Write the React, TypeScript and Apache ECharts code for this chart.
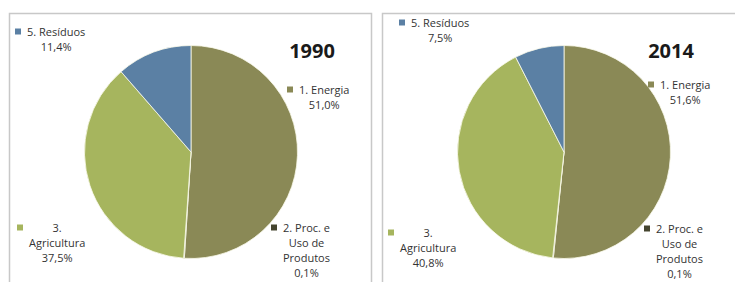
import React, { useEffect, useRef } from 'react';
import * as echarts from 'echarts';

const years = ['1990', '2014'];
const categories = ['1. Energia', '2. Proc. e Uso de Produtos', '3. Agricultura', '5. Resíduos'];
// label text wrapped as in the reference
const labelLines = [['1. Energia'], ['2. Proc. e', 'Uso de', 'Produtos'], ['3.', 'Agricultura'], ['5. Resíduos']];
const values1990 = [51.0, 0.1, 37.5, 11.4];
const values2014 = [51.6, 0.1, 40.8, 7.5];

const colors = ['#8a8956', '#45452f', '#a6b55e', '#5b80a4'];
const FONT = "'Open Sans', 'Liberation Sans', sans-serif";

// top-left of each label block (marker included), per chart, per category
const labelPos = [
  [[287, 82], [271, 220], [17, 220], [15, 24]],
  [[648, 77], [644, 221], [388, 225], [399, 15]],
];
const centers = [[191, 152], [564, 152]];
const titlePos = [[312, 50], [671, 50]];

const fmtPct = (v: number) => v.toFixed(1).replace('.', ',') + '%';

export default function App() {
  const ref = useRef<HTMLDivElement>(null);
  useEffect(() => {
    if (!ref.current) return;
    const chart = echarts.init(ref.current, null, { renderer: 'svg' });
    const rich: any = {
      g: { width: 6, align: 'left' },
      s: { width: 12, align: 'left' },
      t: { align: 'center', fontSize: 11, lineHeight: 15, color: '#333333', fontFamily: FONT },
    };
    colors.forEach((c, i) => {
      rich['m' + i] = { width: 6, height: 6, backgroundColor: c, align: 'left' };
    });
    const allValues = [values1990, values2014];
    const series = allValues.map((vals, si) => ({
      type: 'pie',
      center: centers[si],
      radius: 106.5,
      startAngle: 90,
      clockwise: true,
      avoidLabelOverlap: false,
      itemStyle: { borderColor: 'rgba(250,250,235,0.8)', borderWidth: 1 },
      label: {
        show: true,
        position: 'outside',
        formatter: (p: any) => {
          const i = p.dataIndex;
          const lines = labelLines[i];
          const out = [`{m${i}| }{g| }{t|${lines[0]}}`];
          for (let k = 1; k < lines.length; k++) out.push(`{s| }{t|${lines[k]}}`);
          out.push(`{s| }{t|${fmtPct(p.value)}}`);
          return out.join('\n');
        },
        rich,
      },
      labelLine: { show: false },
      labelLayout: (p: any) => {
        const pos = labelPos[si][p.dataIndex];
        return { x: pos[0], y: pos[1], align: 'left', verticalAlign: 'top' };
      },
      data: vals.map((v, i) => ({ value: v, name: categories[i], itemStyle: { color: colors[i] } })),
    }));
    chart.setOption({
      animation: false,
      backgroundColor: '#ffffff',
      title: years.map((y, i) => ({
        text: y,
        left: titlePos[i][0],
        top: titlePos[i][1],
        textAlign: 'center',
        textVerticalAlign: 'middle',
        padding: 0,
        textStyle: { fontSize: 20, fontWeight: 'bold', color: '#1a1a1a', fontFamily: FONT },
      })),
      graphic: [
        { type: 'rect', z: -10, silent: true, shape: { x: 9.5, y: 13.5, width: 362, height: 300 }, style: { fill: '#fff', stroke: '#c8c8c8', lineWidth: 1.5 } },
        { type: 'rect', z: -10, silent: true, shape: { x: 382.5, y: 13.5, width: 370, height: 300 }, style: { fill: '#fff', stroke: '#c8c8c8', lineWidth: 1.5 } },
      ],
      series,
    });
    return () => chart.dispose();
  }, []);
  return <div ref={ref} style={{ position: 'fixed', left: 0, top: 0, width: 735, height: 282 }} />;
}
